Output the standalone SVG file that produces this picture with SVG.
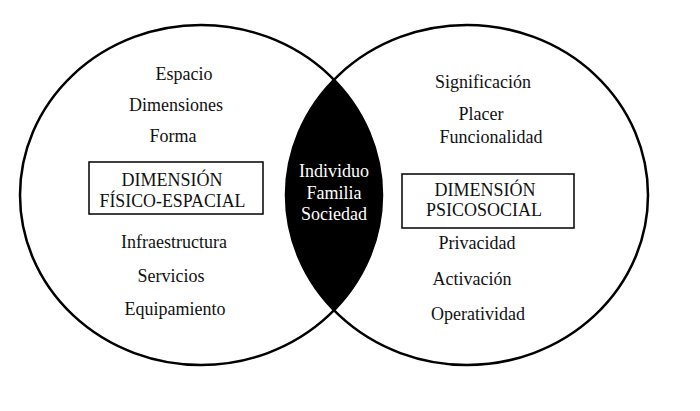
<svg xmlns="http://www.w3.org/2000/svg" width="700" height="411" viewBox="0 0 700 411" font-family="'Liberation Serif', 'Times New Roman', serif">
<style>
.ring{fill:none;stroke:#000;stroke-width:2.5}
.box{fill:#fff;stroke:#000;stroke-width:1.5}
text{font-family:'Liberation Serif','Times New Roman',serif;font-size:18px;fill:#111;text-anchor:middle}
.w{fill:#fff}
</style>
<rect width="700" height="411" fill="#fff"/>
<g id="lens">
<path d="M334 79.7 A181 170 0 0 0 334 310.3 A181 170 0 0 0 334 79.7 Z" fill="#000"/>
<text class="w" x="334" y="177">Individuo</text>
<text class="w" x="334" y="199">Familia</text>
<text class="w" x="334" y="220">Sociedad</text>
</g>
<g id="connectors">
<ellipse class="ring" cx="201" cy="195" rx="181" ry="170"/>
<ellipse class="ring" cx="467" cy="195" rx="181" ry="170"/>
</g>
<g id="left">
<text x="184" y="80">Espacio</text>
<text x="176" y="111">Dimensiones</text>
<text x="173" y="142">Forma</text>
<text x="174" y="248">Infraestructura</text>
<text x="171" y="282">Servicios</text>
<text x="175" y="315">Equipamiento</text>
</g>
<g id="box-fisico">
<rect class="box" x="89" y="162" width="174" height="52"/>
<text x="172" y="186">DIMENSIÓN</text>
<text x="172.5" y="207" textLength="146" lengthAdjust="spacingAndGlyphs">FÍSICO-ESPACIAL</text>
</g>
<g id="right">
<text x="483" y="88">Significación</text>
<text x="481" y="120">Placer</text>
<text x="491" y="143">Funcionalidad</text>
<text x="477" y="249">Privacidad</text>
<text x="472" y="285">Activación</text>
<text x="478" y="320">Operatividad</text>
</g>
<g id="box-psico">
<rect class="box" x="402" y="174" width="172" height="54"/>
<text x="485" y="196">DIMENSIÓN</text>
<text x="484" y="216">PSICOSOCIAL</text>
</g>
</svg>
